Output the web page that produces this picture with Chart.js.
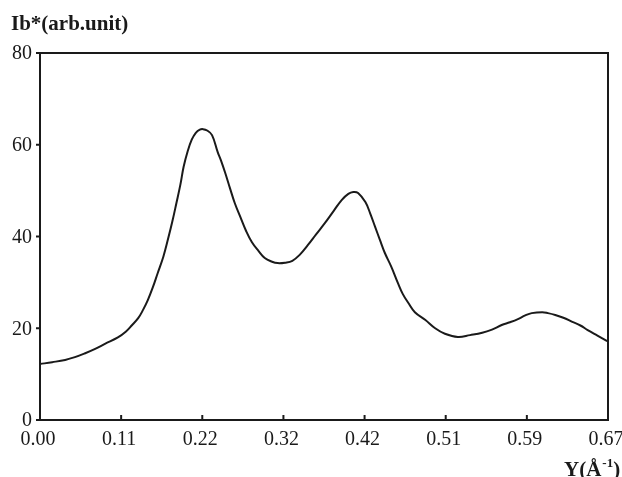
<!DOCTYPE html>
<html>
<head>
<meta charset="utf-8">
<script src="https://cdn.jsdelivr.net/npm/chart.js@4/dist/chart.umd.min.js"></script>
<style>
  body { margin: 0; background: #fff; }
  canvas { display: block; }
</style>
</head>
<body>
<canvas id="chart" width="622" height="477"></canvas>
<script>
// positions along the x axis, in tick steps (tick i sits at position i)
const xPos = [
  0, 0.15, 0.31, 0.43, 0.55, 0.68, 0.80, 0.96, 1.06, 1.13,
  1.21, 1.27, 1.33, 1.39, 1.45, 1.52, 1.58, 1.63, 1.68, 1.73,
  1.77, 1.82, 1.87, 1.92, 1.97, 2.01, 2.06, 2.12, 2.19, 2.23,
  2.28, 2.34, 2.40, 2.47, 2.54, 2.61, 2.69, 2.77, 2.86, 2.93,
  3.02, 3.11, 3.20, 3.30, 3.40, 3.51, 3.62, 3.72, 3.80, 3.86,
  3.92, 4.01, 4.07, 4.13, 4.19, 4.25, 4.33, 4.41, 4.47, 4.54,
  4.62, 4.75, 4.87, 4.99, 5.15, 5.30, 5.45, 5.57, 5.69, 5.79,
  5.89, 5.98, 6.06, 6.19, 6.26, 6.35, 6.45, 6.56, 6.66, 6.75,
  6.87, 6.99
];
const ibValues = [
  12.2, 12.6, 13.1, 13.7, 14.5, 15.5, 16.6, 18.0, 19.3, 20.6,
  22.2, 24.0, 26.2, 28.9, 32.0, 35.6, 39.6, 43.2, 47.2, 51.3,
  55.2, 58.6, 61.1, 62.6, 63.3, 63.4, 63.1, 62.1, 58.4, 56.6,
  54.0, 50.6, 47.3, 44.2, 41.2, 38.8, 36.9, 35.3, 34.5, 34.2,
  34.3, 34.7, 36.0, 38.1, 40.4, 42.9, 45.6, 48.0, 49.3, 49.7,
  49.5, 47.5, 45.0, 42.1, 39.2, 36.4, 33.4, 29.9, 27.5, 25.5,
  23.5, 21.8, 20.0, 18.8, 18.1, 18.5, 19.0, 19.7, 20.7, 21.3,
  22.0, 22.8, 23.3, 23.5, 23.3, 22.9, 22.3, 21.4, 20.6, 19.6,
  18.4, 17.2
];
const xTickLabels = ['0.00', '0.11', '0.22', '0.32', '0.42', '0.51', '0.59', '0.67'];
const yTicks = [0, 20, 40, 60, 80];

const serif = '"Liberation Serif", "DejaVu Serif", serif';

// frame, ticks and all axis text drawn on top of the chart
const axisPlugin = {
  id: 'axisPlugin',
  afterDraw(chart) {
    const ctx = chart.ctx;
    const area = chart.chartArea;
    const xs = chart.scales.x;
    const ys = chart.scales.y;
    ctx.save();
    ctx.strokeStyle = '#1a1a1a';
    ctx.lineWidth = 2;
    ctx.strokeRect(area.left, area.top, area.right - area.left, area.bottom - area.top);

    // y ticks point outward
    ctx.fillStyle = '#1a1a1a';
    ctx.font = '20px ' + serif;
    ctx.textAlign = 'right';
    ctx.textBaseline = 'middle';
    yTicks.forEach(v => {
      const y = ys.getPixelForValue(v);
      ctx.beginPath();
      ctx.moveTo(area.left - 4, y);
      ctx.lineTo(area.left, y);
      ctx.stroke();
      ctx.fillText(String(v), area.left - 8, y + 1);
    });

    // x ticks point inward
    ctx.textAlign = 'center';
    ctx.textBaseline = 'alphabetic';
    xTickLabels.forEach((lab, i) => {
      const x = xs.getPixelForValue(i);
      if (i > 0 && i < xTickLabels.length - 1) {
        ctx.beginPath();
        ctx.moveTo(x, area.bottom);
        ctx.lineTo(x, area.bottom - 5);
        ctx.stroke();
      }
      ctx.fillText(lab, x - 2, area.bottom + 25);
    });

    // axis titles
    ctx.textAlign = 'left';
    ctx.font = 'bold 21px ' + serif;
    ctx.fillText('Ib*(arb.unit)', 11, 30);

    let tx = 564;
    const ty = 476;
    ctx.font = 'bold 21px ' + serif;
    ctx.fillText('Y(Å', tx, ty);
    tx += ctx.measureText('Y(Å').width;
    ctx.font = 'bold 13px ' + serif;
    ctx.fillText('-1', tx + 1, ty - 9);
    tx += ctx.measureText('-1').width + 1;
    ctx.font = 'bold 21px ' + serif;
    ctx.fillText(')', tx, ty);
    ctx.restore();
  }
};

new Chart(document.getElementById('chart'), {
  type: 'line',
  data: {
    datasets: [{
      data: xPos.map((x, i) => ({ x: x, y: ibValues[i] })),
      borderColor: '#1a1a1a',
      borderWidth: 2,
      pointRadius: 0,
      fill: false,
      tension: 0.4
    }]
  },
  options: {
    responsive: false,
    animation: false,
    devicePixelRatio: 1,
    layout: { padding: { left: 40, right: 14, top: 53, bottom: 57 } },
    plugins: { legend: { display: false }, tooltip: { enabled: false } },
    scales: {
      x: { type: 'linear', min: 0, max: 7, display: false },
      y: { min: 0, max: 80, display: false }
    }
  },
  plugins: [axisPlugin]
});
</script>
</body>
</html>
